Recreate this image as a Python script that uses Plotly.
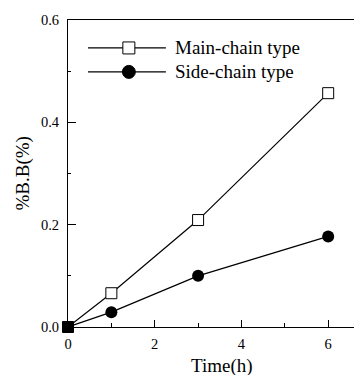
import plotly.graph_objects as go

time_h = [0, 1, 3, 6]
main_chain = [0.0, 0.066, 0.209, 0.457]
side_chain = [0.0, 0.029, 0.100, 0.177]
series_names = ["Main-chain type", "Side-chain type"]
x_title = "Time(h)"
y_title = "%B.B(%)"

FONT = "Liberation Serif, Times New Roman, serif"

fig = go.Figure()
fig.add_trace(go.Scatter(x=time_h, y=side_chain, mode="lines+markers", name=series_names[1],
                         line=dict(color="black", width=1.2),
                         marker=dict(symbol="circle", size=12, color="black"),
                         cliponaxis=False, showlegend=False))
fig.add_trace(go.Scatter(x=time_h, y=main_chain, mode="lines+markers", name=series_names[0],
                         line=dict(color="black", width=1.2),
                         marker=dict(symbol="square", size=11,
                                     color=["black"] + ["white"] * (len(time_h) - 1),
                                     line=dict(color="black", width=1)),
                         cliponaxis=False, showlegend=False))

# custom legend (layout decorations)
shapes = []
annotations = []
legend_rows = [0.909, 0.831]
for i, name in enumerate(series_names):
    yy = legend_rows[i]
    shapes.append(dict(type="line", xref="paper", yref="paper", x0=0.068, x1=0.333, y0=yy, y1=yy,
                       line=dict(color="black", width=1.2)))
    if i == 0:
        shapes.append(dict(type="rect", xref="paper", yref="paper", xsizemode="pixel", ysizemode="pixel",
                           xanchor=0.207, yanchor=yy, x0=-6, x1=6, y0=-6, y1=6,
                           fillcolor="white", line=dict(color="black", width=1)))
    else:
        shapes.append(dict(type="circle", xref="paper", yref="paper", xsizemode="pixel", ysizemode="pixel",
                           xanchor=0.207, yanchor=yy, x0=-6.5, x1=6.5, y0=-6.5, y1=6.5,
                           fillcolor="black", line=dict(color="black", width=1)))
    annotations.append(dict(text=name, xref="paper", yref="paper", x=0.357, y=yy, xanchor="left",
                            yanchor="middle", showarrow=False, font=dict(family=FONT, size=19, color="black")))

annotations.append(dict(text=x_title, xref="paper", yref="paper", x=0.524, y=0, yshift=-39,
                        xanchor="center", yanchor="middle", showarrow=False,
                        font=dict(family=FONT, size=19, color="black")))
annotations.append(dict(text=y_title, xref="paper", yref="paper", x=0, xshift=-46, y=0.5,
                        xanchor="center", yanchor="middle", textangle=-90, showarrow=False,
                        font=dict(family=FONT, size=19, color="black")))

fig.update_layout(
    width=354, height=367,
    margin=dict(l=60, r=0, t=12, b=48, pad=0),
    paper_bgcolor="white", plot_bgcolor="white",
    font=dict(family=FONT, size=14.5, color="black"),
    shapes=shapes, annotations=annotations,
    xaxis=dict(range=[0, 6.78], tickvals=[0, 2, 4, 6], ticks="inside", ticklen=7, tickwidth=1.2,
               tickcolor="black", showline=True, linecolor="black", linewidth=1.2, mirror=True,
               showgrid=False, zeroline=False, automargin=False, ticklabelstandoff=3,
               minor=dict(tickvals=[1, 3, 5], ticks="inside", ticklen=4, tickwidth=1, tickcolor="black"),
               tickfont=dict(family=FONT, size=14.5, color="black")),
    yaxis=dict(range=[0, 0.6], tickvals=[0, 0.2, 0.4, 0.6], ticktext=["0.0", "0.2", "0.4", "0.6"],
               ticks="inside", ticklen=8, tickwidth=1.2, tickcolor="black",
               showline=True, linecolor="black", linewidth=1.2, mirror=False,
               showgrid=False, zeroline=False, automargin=False, ticklabelstandoff=5,
               minor=dict(tickvals=[0.1, 0.3, 0.5], ticks="inside", ticklen=3, tickwidth=1, tickcolor="black"),
               tickfont=dict(family=FONT, size=14.5, color="black")),
)

fig.write_html("out.html")
